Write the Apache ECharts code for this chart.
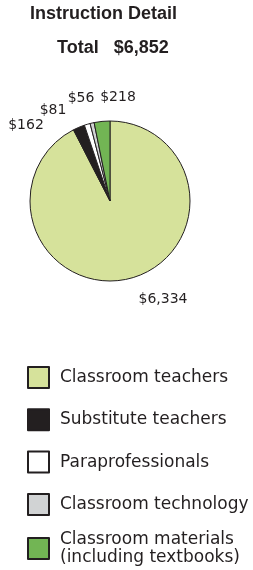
<!DOCTYPE html>
<html>
<head>
<meta charset="utf-8">
<script src="https://cdn.jsdelivr.net/npm/echarts@6/dist/echarts.min.js"></script>
<style>
  html, body { margin: 0; padding: 0; background: #fff; }
  #chart { width: 253px; height: 570px; }
</style>
</head>
<body>
<div id="chart"></div>
<script>
// data
var categories = ['Classroom teachers', 'Substitute teachers', 'Paraprofessionals', 'Classroom technology', 'Classroom materials\n(including textbooks)'];
var amounts = [6334, 162, 81, 56, 218];
var colors = ['#d6e29b', '#231f20', '#ffffff', '#d1d3d4', '#72b554'];
var totalText = '$6,852';

// where each value label sits (text centres)
var labelSpots = [[163, 299], [26, 125], [53, 110], [81, 98], [118, 97]];

function money(v) {
    return '$' + v.toString().replace(/\B(?=(\d{3})+(?!\d))/g, ',');
}

var myChart = echarts.init(document.getElementById('chart'));

var legendText = { fontFamily: 'DejaVu Sans', fontSize: 17, color: '#231f20', lineHeight: 18, padding: [0, 0, 0, 6] };

var option = {
    animation: false,
    title: [{
        text: 'Instruction Detail',
        left: 30, top: 5, padding: 0,
        textStyle: { fontFamily: 'Liberation Sans', fontSize: 18, fontWeight: 'bold', color: '#231f20' }
    }, {
        text: 'Total   ' + totalText,
        left: 57, top: 39, padding: 0,
        textStyle: { fontFamily: 'Liberation Sans', fontSize: 18, fontWeight: 'bold', color: '#231f20' }
    }],
    // the last entry wraps onto two lines, so it gets its own legend box
    legend: [{
        orient: 'vertical',
        left: 27, top: 366, height: 200,
        padding: 0,
        itemWidth: 21, itemHeight: 21,
        itemGap: 19.3,
        icon: 'rect',
        textStyle: legendText,
        data: categories.slice(0, 4)
    }, {
        orient: 'vertical',
        left: 27, top: 527,
        padding: 0,
        itemWidth: 21, itemHeight: 21,
        icon: 'rect',
        textStyle: { fontFamily: 'DejaVu Sans', fontSize: 17, color: '#231f20', lineHeight: 18.5, padding: [6, 0, 0, 6] },
        data: categories.slice(4)
    }],
    series: [{
        type: 'pie',
        center: [110, 201],
        radius: 80,
        startAngle: 90,
        clockwise: true,
        silent: true,
        avoidLabelOverlap: false,
        itemStyle: { borderColor: '#231f20', borderWidth: 1 },
        label: {
            show: true,
            position: 'inside',
            fontFamily: 'DejaVu Sans', fontSize: 14, color: '#231f20',
            formatter: function (p) { return money(p.value); }
        },
        labelLine: { show: false },
        labelLayout: function (p) {
            var s = labelSpots[p.dataIndex];
            return { x: s[0], y: s[1], align: 'center', verticalAlign: 'middle', hideOverlap: false };
        },
        data: categories.map(function (c, i) {
            return { name: c, value: amounts[i], itemStyle: { color: colors[i] } };
        })
    }]
};

myChart.setOption(option);
</script>
</body>
</html>
